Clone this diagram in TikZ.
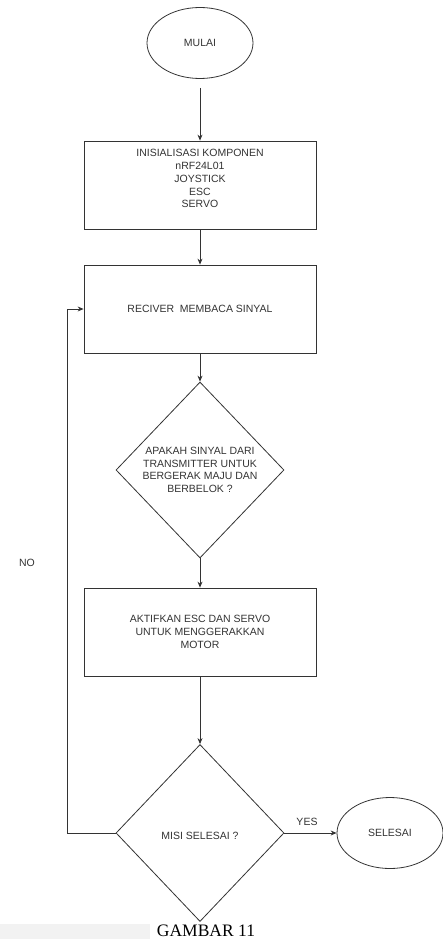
\documentclass[tikz,border=0pt]{standalone}
\usepackage{fontspec}
\setmainfont{Liberation Sans}
\newfontfamily\capfont{Liberation Serif}
\usetikzlibrary{shapes.geometric,arrows.meta}

\begin{document}
\begin{tikzpicture}[x=1pt,y=-1pt,
  every node/.style={font=\fontsize{10.5}{12.7}\selectfont, text=black!80},
  terminal/.style={draw=black!80, line width=0.8pt, ellipse, inner sep=0pt,
    minimum width=106pt, minimum height=71pt},
  prosesbox/.style={draw=black!80, line width=0.8pt, rectangle, align=center,
    minimum width=232pt, minimum height=88pt},
  keputusan/.style={draw=black!80, line width=0.8pt, diamond, align=center,
    inner sep=0pt, minimum width=168pt, minimum height=176pt},
  panah/.style={draw=black!80, line width=0.8pt, -{Stealth[length=6pt,width=5pt]}}]
  \useasboundingbox (0,0) rectangle (442,939);
  \fill[black!5] (0,924) rectangle (150,939);
  \node[terminal] (mulai) at (200,43) {MULAI};
  \node[prosesbox] (init) at (200,185) {INISIALISASI KOMPONEN\\nRF24L01\\JOYSTICK\\ESC\\SERVO\\ \mbox{}};
  \node[prosesbox] (baca) at (200,309) {RECIVER\ \ MEMBACA SINYAL};
  \node[keputusan] (cek) at (200,470) {APAKAH SINYAL DARI\\TRANSMITTER UNTUK\\BERGERAK MAJU DAN\\BERBELOK ?};
  \node[prosesbox] (aktif) at (200,632) {AKTIFKAN ESC DAN SERVO\\UNTUK MENGGERAKKAN\\MOTOR};
  \node[keputusan, minimum height=177pt] (misi) at (200,833) {\mbox{}\\MISI SELESAI ?};
  \node[terminal] (selesai) at (390,833) {SELESAI};
  \coordinate (loop) at (67,833);
  \draw[panah, shorten <=9pt] (mulai) -- (init);
  \draw[panah] (init) -- (baca);
  \draw[panah] (baca) -- (cek);
  \draw[panah] (cek) -- (aktif);
  \draw[panah] (aktif) -- (misi);
  \draw[panah] (misi.east) -- (selesai.west);
  \draw[panah] (misi.west) -- (loop) |- (baca.west);
  \node at (307,822) {YES};
  \node at (27,563) {NO};
  \node[font=\capfont\fontsize{17.5}{20}\selectfont, text=black, anchor=base,
    inner sep=0pt, text depth=0pt] (gambar) at (206,936.5) {GAMBAR 11};
\end{tikzpicture}
\end{document}
